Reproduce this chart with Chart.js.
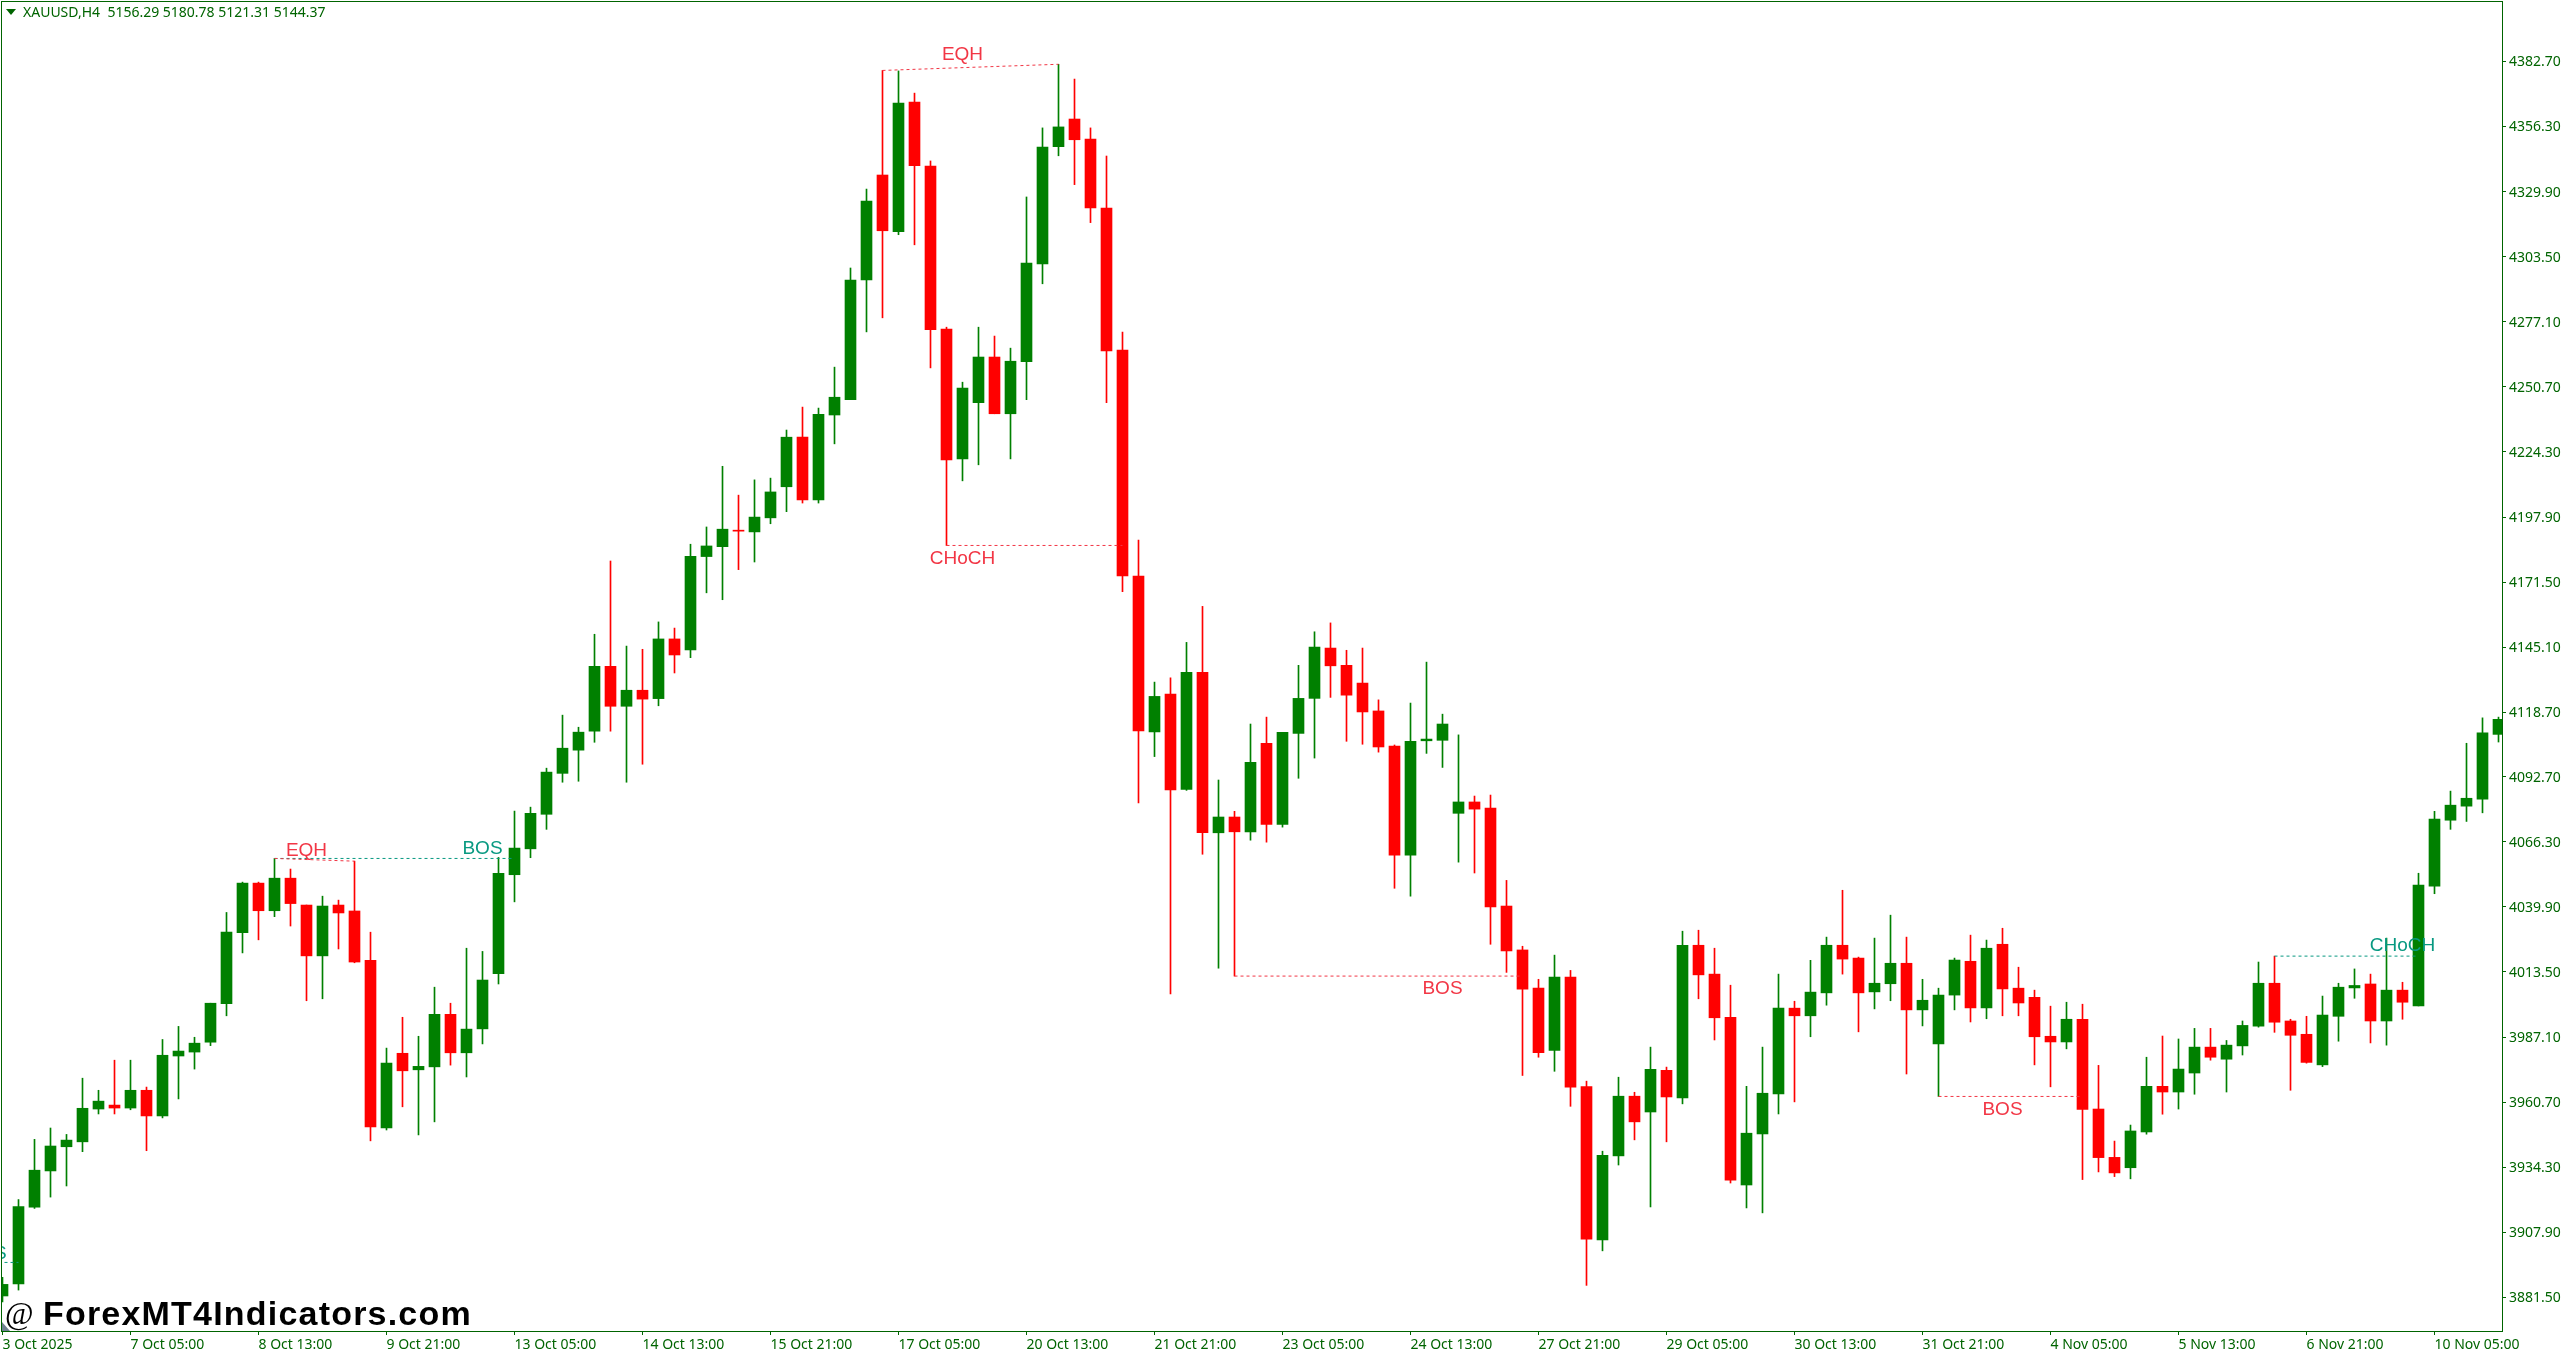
<!DOCTYPE html>
<html>
<head>
<meta charset="utf-8">
<title>XAUUSD,H4</title>
<script src="https://cdn.jsdelivr.net/npm/chart.js@4"></script>
<style>
  html, body { margin: 0; padding: 0; background: #fff; overflow: hidden; }
  canvas { display: block; }
</style>
</head>
<body>
<canvas id="grafico" width="2564" height="1354"></canvas>
<script>
// candles, oldest first
const opens = [
  3882.1,3887.0,3918.1,3932.8,3942.6,3944.6,3957.9,3959.5,3958.3,3965.5,
  3955.1,3979.4,3981.0,3985.0,4000.6,4029.4,4049.5,4038.3,4051.5,4040.6,
  4020.0,4040.6,4038.2,4018.2,3950.2,3980.5,3973.8,3975.0,3996.3,3980.7,
  3990.4,4012.8,4052.9,4063.4,4077.4,4094.0,4103.4,4111.1,4137.4,4121.2,
  4127.7,4124.3,4148.5,4144.0,4181.9,4185.9,4192.6,4191.9,4197.6,4210.2,
  4230.3,4204.9,4239.3,4245.5,4294.1,4336.6,4313.6,4366.2,4340.2,4274.1,
  4221.5,4244.3,4262.8,4239.8,4260.9,4300.6,4348.1,4359.3,4351.2,4323.2,
  4265.6,4174.0,4110.8,4126.1,4087.5,4135.0,4069.9,4076.3,4070.3,4106.2,
  4073.3,4110.2,4124.4,4144.8,4137.8,4130.6,4119.3,4105.1,4060.8,4107.2,
  4107.4,4077.8,4082.4,4079.9,4040.2,4022.4,4006.9,3981.7,4011.4,3967.0,
  3904.8,3938.9,3963.1,3956.7,3973.6,3962.4,4024.3,4012.6,3995.1,3927.1,
  3947.8,3964.0,3998.8,3995.7,4005.0,4024.3,4019.1,4005.4,4008.7,4017.0,
  3998.1,3984.3,4004.1,4017.8,3998.9,4024.7,4006.9,4003.2,3987.4,3985.1,
  3994.3,3957.9,3938.3,3934.1,3948.6,3967.1,3964.8,3972.5,3983.0,3978.1,
  3983.5,3991.5,4008.9,3993.6,3988.2,3975.8,3995.5,4007.0,4008.6,3993.6,
  4006.1,3999.7,4048.3,4075.0,4080.7,4083.5,4109.8
];
const closes = [
  3886.8,3918.3,3933.1,3942.9,3945.3,3958.2,3961.1,3958.3,3965.5,3955.1,
  3979.7,3981.4,3984.6,4000.8,4029.6,4049.5,4038.3,4051.5,4041.2,4020.0,
  4040.2,4037.4,4017.5,3950.6,3976.5,3973.4,3975.2,3996.3,3980.7,3990.3,
  4010.2,4053.5,4063.7,4077.8,4094.5,4104.2,4110.7,4137.4,4121.2,4127.7,
  4124.1,4148.5,4142.0,4182.0,4186.2,4193.0,4192.2,4197.9,4208.1,4230.3,
  4204.9,4239.6,4246.5,4294.0,4326.0,4314.0,4365.8,4340.4,4273.9,4221.1,
  4250.2,4262.8,4239.8,4261.1,4300.9,4347.9,4356.1,4350.9,4323.3,4265.3,
  4174.1,4111.2,4125.2,4087.3,4135.0,4069.9,4076.3,4070.3,4098.5,4073.3,
  4110.6,4124.4,4145.2,4137.6,4125.7,4118.9,4104.7,4060.8,4107.0,4107.9,
  4114.0,4082.4,4079.5,4039.8,4022.0,4006.5,3980.8,4011.4,3966.8,3905.1,
  3939.1,3963.1,3952.7,3974.0,3962.8,4024.3,4012.3,3994.9,3929.1,3948.1,
  3964.3,3998.8,3995.7,4005.3,4024.3,4018.7,4005.0,4008.9,4017.0,3998.1,
  4002.0,4004.1,4018.3,3998.9,4023.1,4006.6,4000.9,3987.2,3985.1,3994.3,
  3957.7,3938.2,3932.0,3949.0,3967.1,3964.8,3974.1,3983.0,3978.9,3983.8,
  3991.8,4008.9,3993.1,3987.8,3976.8,3996.0,4007.3,4008.0,3993.6,4006.1,
  4001.2,4048.7,4075.5,4081.1,4083.9,4110.4,4115.9
];
const highs = [
  3889.7,3921.2,3945.6,3950.2,3947.6,3970.4,3965.5,3977.7,3977.7,3966.8,
  3986.1,3991.4,3987.0,4000.8,4037.6,4049.9,4049.9,4059.5,4055.2,4040.6,
  4044.2,4042.6,4058.4,4029.6,3982.6,3995.1,3987.4,4007.3,4000.8,4023.1,
  4021.8,4059.9,4078.7,4080.3,4096.1,4117.6,4112.7,4150.4,4180.1,4145.6,
  4144.3,4155.4,4152.9,4186.9,4193.9,4218.5,4206.8,4213.0,4213.7,4233.2,
  4242.5,4242.1,4258.7,4298.9,4330.9,4379.0,4378.8,4369.8,4342.3,4274.9,
  4252.6,4274.9,4271.3,4266.4,4327.7,4355.7,4381.5,4375.5,4355.7,4344.3,
  4272.9,4188.6,4131.0,4132.7,4147.1,4161.7,4091.3,4078.6,4114.0,4116.8,
  4110.6,4137.8,4151.4,4155.0,4143.9,4144.8,4123.8,4105.5,4122.5,4139.1,
  4118.0,4109.6,4084.8,4085.2,4050.6,4023.9,4010.5,4020.3,4014.1,3969.2,
  3940.8,3970.8,3964.7,3983.0,3974.9,4030.0,4030.4,4023.1,4008.1,3967.1,
  3983.0,4012.6,4001.6,4018.2,4027.6,4046.6,4019.5,4027.2,4036.5,4027.6,
  4010.5,4006.9,4019.1,4028.4,4026.4,4031.2,4015.4,4006.1,3999.6,4001.2,
  4000.4,3975.6,3944.9,3951.4,3978.9,3987.5,3986.3,3990.6,3990.6,3985.7,
  3993.6,4017.5,4019.9,3994.3,3995.5,4003.7,4008.9,4014.7,4012.6,4027.2,
  4009.3,4053.5,4078.6,4086.8,4106.2,4116.5,4116.8
];
const lows = [
  3879.7,3884.5,3917.6,3922.2,3926.7,3940.6,3955.9,3955.9,3957.6,3941.0,
  3954.3,3962.0,3974.1,3983.6,3995.7,4021.2,4026.5,4035.9,4032.1,4001.8,
  4002.6,4022.8,4017.2,3945.0,3949.4,3958.8,3947.4,3952.7,3975.7,3970.9,
  3984.3,4008.6,4041.9,4059.8,4071.3,4090.4,4090.8,4106.6,4111.1,4090.4,
  4097.7,4121.4,4134.7,4140.9,4167.2,4164.4,4176.6,4179.7,4195.2,4200.1,
  4203.6,4203.6,4227.6,4245.5,4273.0,4278.7,4312.4,4308.3,4258.4,4186.4,
  4212.6,4219.1,4239.8,4221.5,4245.5,4292.5,4344.4,4332.7,4317.3,4244.3,
  4167.7,4082.0,4100.8,4004.6,4087.1,4061.2,4015.0,4011.8,4066.9,4066.1,
  4072.2,4092.0,4100.2,4124.8,4107.0,4105.8,4102.6,4047.4,4044.2,4102.1,
  4096.4,4058.0,4053.6,4024.7,4013.3,3971.5,3978.9,3973.2,3959.0,3886.4,
  3900.4,3935.2,3945.4,3918.2,3944.6,3960.0,4002.6,3985.9,3927.9,3917.8,
  3915.8,3955.9,3960.8,3987.2,4000.0,4012.6,3989.2,3998.5,4001.8,3972.1,
  3991.6,3963.0,3998.1,3993.2,3994.5,3995.7,3995.7,3975.8,3966.9,3982.3,
  3929.3,3932.4,3930.5,3929.6,3947.7,3955.8,3957.9,3963.9,3977.7,3964.8,
  3979.8,3991.1,3989.0,3965.5,3976.5,3975.1,3985.4,4002.8,3984.7,3983.8,
  3994.3,3999.7,4045.2,4071.3,4074.5,4078.0,4106.7
];

// axis labels
const xTickBars = [0,8,16,24,32,40,48,56,64,72,80,88,96,104,112,120,128,136,144,152];
const xTickLabels = [
  "3 Oct 2025","7 Oct 05:00","8 Oct 13:00","9 Oct 21:00","13 Oct 05:00",
  "14 Oct 13:00","15 Oct 21:00","17 Oct 05:00","20 Oct 13:00","21 Oct 21:00",
  "23 Oct 05:00","24 Oct 13:00","27 Oct 21:00","29 Oct 05:00","30 Oct 13:00",
  "31 Oct 21:00","4 Nov 05:00","5 Nov 13:00","6 Nov 21:00","10 Nov 05:00"
];
const yTicks = [
  4382.7,4356.3,4329.9,4303.5,4277.1,4250.7,4224.3,4197.9,4171.5,4145.1,
  4118.7,4092.7,4066.3,4039.9,4013.5,3987.1,3960.7,3934.3,3907.9,3881.5
];

// structure levels (dashed lines) and their labels
const levelFromBar   = [-1,     17,     17,     55,     59,     77,     121,    142];
const levelFromPrice = [3895.7, 4059.5, 4059.5, 4379.0, 4186.4, 4011.8, 3963.0, 4019.9];
const levelToBar     = [1,      22,     32,     66,     70,     95,     130,    151];
const levelToPrice   = [3895.7, 4058.4, 4059.5, 4381.5, 4186.4, 4011.8, 3963.0, 4019.9];
const levelBullish   = [true,   false,  true,   false,  false,  false,  false,  true];
const labelTexts     = ["BOS",  "EQH",  "BOS",  "EQH",  "CHoCH","BOS",  "BOS",  "CHoCH"];
const labelBars      = [-1,     19,     30,     60,     60,     90,     125,    150];
const labelPrices    = [3899.1, 4062.5, 4063.3, 4385.4, 4180.9, 4006.6, 3957.5, 4023.9];

const headerText = "XAUUSD,H4  5156.29 5180.78 5121.31 5144.37";
const watermarkAt = "@";
const watermarkText = "ForexMT4Indicators.com";

const VERDE = "#008000";
const VERMELHO = "#ff0000";
const MOLDURA = "#006400";
const NIVEL_ALTA = "#089981";
const NIVEL_BAIXA = "#f23645";
const FONTE = '"Noto Sans", sans-serif';

const cores = opens.map((o, i) => closes[i] >= o ? VERDE : VERMELHO);

// frame, header, watermark and level labels are not part of any dataset
const extras = {
    id: "extras",
    beforeDraw(chart) {
        const { ctx, chartArea: a } = chart;
        ctx.save();
        ctx.fillStyle = "#fff";
        ctx.fillRect(0, 0, chart.width, chart.height);
        ctx.strokeStyle = MOLDURA;
        ctx.lineWidth = 1;
        ctx.strokeRect(a.left - 0.5, a.top - 0.5, a.right - a.left + 1, a.bottom - a.top + 1);
        ctx.restore();
    },
    afterDatasetsDraw(chart) {
        const { ctx, chartArea: a, scales } = chart;
        ctx.save();
        ctx.beginPath();
        ctx.rect(a.left, a.top, a.right - a.left, a.bottom - a.top);
        ctx.clip();
        ctx.font = '19px "Liberation Sans", sans-serif';
        ctx.textAlign = "center";
        ctx.textBaseline = "middle";
        labelTexts.forEach((t, i) => {
            ctx.fillStyle = levelBullish[i] ? NIVEL_ALTA : NIVEL_BAIXA;
            ctx.fillText(t, scales.x.getPixelForValue(labelBars[i]), scales.y.getPixelForValue(labelPrices[i]));
        });
        ctx.restore();

        ctx.save();
        // header
        ctx.fillStyle = MOLDURA;
        ctx.beginPath();
        ctx.moveTo(6, 9);
        ctx.lineTo(16, 9);
        ctx.lineTo(11, 15);
        ctx.closePath();
        ctx.fill();
        ctx.font = "14px " + FONTE;
        ctx.textBaseline = "middle";
        ctx.fillText(headerText, 23, 13);

        // watermark
        ctx.fillStyle = "#000";
        ctx.font = '31px "Liberation Serif", serif';
        ctx.fillText(watermarkAt, 5, 1316);
        ctx.font = 'bold 34px "Liberation Sans", sans-serif';
        ctx.letterSpacing = "1.2px";
        ctx.fillText(watermarkText, 43, 1316);
        ctx.letterSpacing = "0px";

        // chart shift marker
        ctx.fillStyle = "#708090";
        ctx.beginPath();
        ctx.moveTo(2, 1322);
        ctx.lineTo(2, 1331);
        ctx.lineTo(10, 1331);
        ctx.closePath();
        ctx.fill();
        ctx.restore();
    }
};

const velas = [
    {
        // bodies
        data: opens.map((o, i) => ({ x: i, y: [o, closes[i]] })),
        backgroundColor: cores,
        barThickness: 11,
        grouped: false,
        order: 2
    },
    {
        // wicks
        data: lows.map((l, i) => ({ x: i, y: [l, highs[i]] })),
        backgroundColor: cores,
        barThickness: 1,
        grouped: false,
        order: 3
    }
];

const niveis = levelFromBar.map((b, i) => ({
    type: "line",
    data: [{ x: b, y: levelFromPrice[i] }, { x: levelToBar[i], y: levelToPrice[i] }],
    borderColor: levelBullish[i] ? NIVEL_ALTA : NIVEL_BAIXA,
    borderWidth: 1,
    borderDash: [3, 3],
    pointRadius: 0,
    tension: 0,
    order: 1
}));

new Chart(document.getElementById("grafico").getContext("2d"), {
    type: "bar",
    data: { datasets: [...velas, ...niveis] },
    plugins: [extras],
    options: {
        responsive: false,
        animation: false,
        devicePixelRatio: 1,
        layout: { padding: { left: 2, top: 2, right: 0, bottom: 0 } },
        plugins: { legend: { display: false }, tooltip: { enabled: false } },
        scales: {
            x: {
                type: "linear",
                offset: false,
                min: -0.03125,
                max: 156.21875,
                afterBuildTicks: scale => { scale.ticks = xTickBars.map(v => ({ value: v })); },
                afterFit: scale => { scale.height = 23; scale.paddingLeft = 0; scale.paddingRight = 0; },
                border: { display: false },
                grid: { offset: false, drawOnChartArea: false, color: MOLDURA, tickLength: 4 },
                ticks: {
                    autoSkip: false,
                    maxRotation: 0,
                    align: "start",
                    padding: 2,
                    color: MOLDURA,
                    font: { family: FONTE, size: 14 },
                    callback: (v, i) => xTickLabels[i]
                }
            },
            y: {
                position: "right",
                min: 3867.9,
                max: 4406.75,
                afterBuildTicks: scale => { scale.ticks = yTicks.map(v => ({ value: v })); },
                afterFit: scale => { scale.width = 62; scale.paddingTop = 0; scale.paddingBottom = 0; },
                border: { display: false },
                grid: { drawOnChartArea: false, color: MOLDURA, tickLength: 4 },
                ticks: {
                    autoSkip: false,
                    padding: 3,
                    labelOffset: 1,
                    color: MOLDURA,
                    font: { family: FONTE, size: 14 },
                    callback: v => v.toFixed(2)
                }
            }
        }
    }
});
</script>
</body>
</html>
